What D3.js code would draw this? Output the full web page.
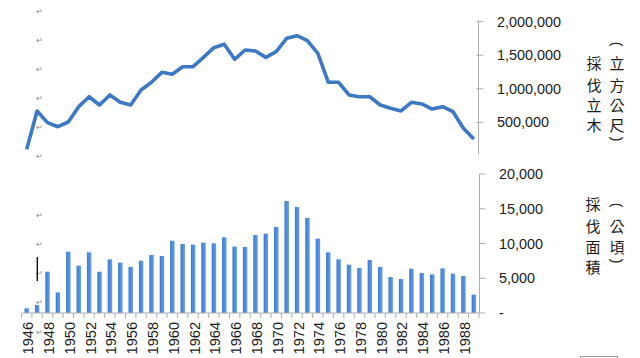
<!DOCTYPE html>
<html><head><meta charset="utf-8">
<script src="https://cdn.jsdelivr.net/npm/d3@7"></script>
<style>
html,body{margin:0;padding:0;background:#fff;}
svg{display:block;}
text{font-family:"Liberation Sans",Arial,sans-serif;}
.cjk{font-family:"Noto Sans CJK TC","Noto Sans CJK SC",sans-serif;}
</style></head>
<body>
<svg id="chart" width="640" height="358"></svg>
<script>
const years = d3.range(1946, 1990);
const volume = [100000,670000,496000,436000,506000,734000,882000,759000,908000,799000,
  759000,982000,1097000,1245000,1216000,1329000,1329000,1468000,1612000,1662000,
  1439000,1577000,1562000,1468000,1552000,1751000,1790000,1716000,1528000,1100000,
  1097000,908000,882000,882000,759000,710000,670000,799000,774000,699000,
  734000,659000,412000,253000];
const area = [680,1150,5940,2970,8820,6810,8730,5940,7720,7240,
  6620,7530,8350,8200,10400,9930,9830,10120,10020,10890,
  9540,9500,11220,11410,12370,16110,15250,13670,10700,8730,
  7720,6950,6470,7630,6620,5180,4890,6380,5760,5560,
  6430,5660,5320,2640];
const topTicks = [0,500000,1000000,1500000,2000000];
const botTicks = [0,5000,10000,15000,20000];
const yearLabels = years.filter(y => y % 2 === 0);
const topTitle = ["採","伐","立","木"];
const topUnit = ["立","方","公","尺"];
const botTitle = ["採","伐","面","積"];
const botUnit = ["公","頃"];

const svg = d3.select("#chart");
const axisColor = "#aeaeae";

const x = d3.scaleBand().domain(years).range([21.5, 479]);
const bw = x.bandwidth();
const yTop = d3.scaleLinear().domain([0, 2000000]).range([156, 21.6]);
const yBot = d3.scaleLinear().domain([0, 20000]).range([313, 174]);

const defs = svg.append("defs");
const g = defs.append("linearGradient").attr("id","barg").attr("x1","0").attr("x2","1").attr("y1","0").attr("y2","0");
g.append("stop").attr("offset","0%").attr("stop-color","#3a7bd5");
g.append("stop").attr("offset","100%").attr("stop-color","#6a9fe3");

// artifacts: return marks and cursor
const marks = [11,40,69,98,127,156,215,244,273,302,332];
svg.selectAll("text.ret").data(marks).join("text").attr("class","ret")
  .attr("x",39).attr("y",d=>d+3).attr("text-anchor","middle")
  .attr("font-size",8).attr("fill","#8a8a8a").text("↵");
svg.append("line").attr("x1",37.3).attr("x2",37.3).attr("y1",257).attr("y2",281)
  .attr("stroke","#111").attr("stroke-width",1.4);

// top axis
const ta = svg.append("g").attr("transform","translate(478.5,0)");
ta.append("line").attr("x1",0).attr("x2",0).attr("y1",yTop(2000000)-1).attr("y2",yTop(0)-1.5).attr("stroke",axisColor);
ta.selectAll("line.t").data(topTicks.slice(1)).join("line").attr("class","t")
  .attr("x1",-2).attr("x2",5).attr("y1",d=>yTop(d)).attr("y2",d=>yTop(d)).attr("stroke",axisColor);
svg.append("g").selectAll("text").data(topTicks.slice(1)).join("text")
  .attr("x",497).attr("y",d=>yTop(d)).attr("dy","0.35em").attr("font-size",14.4).attr("fill","#1a1a1a")
  .text(d=>d3.format(",")(d));

// line
svg.append("path").datum(volume)
  .attr("d", d3.line().x((d,i)=>x(years[i])+bw/2).y(d=>yTop(d)))
  .attr("fill","none").attr("stroke","#3c78c3").attr("stroke-width",3.6)
  .attr("stroke-linejoin","round");

// bottom axis
const ba = svg.append("g").attr("transform","translate(479.5,0)");
ba.append("line").attr("x1",0).attr("x2",0).attr("y1",yBot(20000)).attr("y2",yBot(0)).attr("stroke",axisColor);
ba.selectAll("line.t").data(botTicks).join("line").attr("class","t")
  .attr("x1",0).attr("x2",6).attr("y1",d=>yBot(d)).attr("y2",d=>yBot(d)).attr("stroke",axisColor);
svg.append("g").selectAll("text").data(botTicks).join("text")
  .attr("x",499).attr("y",d=>yBot(d)).attr("dy","0.35em").attr("font-size",14.4).attr("fill","#1a1a1a")
  .text(d=>d===0?"-":d3.format(",")(d));

// bars
svg.append("g").selectAll("rect").data(area).join("rect")
  .attr("x",(d,i)=>x(years[i])+bw*0.29).attr("width",bw*0.43)
  .attr("y",d=>yBot(d)).attr("height",d=>yBot(0)-yBot(d))
  .attr("fill","url(#barg)");

// x axis
svg.append("line").attr("x1",x.range()[0]).attr("x2",x.range()[1]).attr("y1",313).attr("y2",313).attr("stroke",axisColor);
const bounds = years.map(y=>x(y)).concat([x.range()[1]]);
svg.append("g").selectAll("line").data(bounds).join("line")
  .attr("x1",d=>d).attr("x2",d=>d).attr("y1",313).attr("y2",318).attr("stroke",axisColor);
svg.append("g").selectAll("text").data(yearLabels).join("text")
  .attr("transform",d=>`translate(${x(d)+bw/2+1.2},322) rotate(-90)`)
  .attr("text-anchor","end").attr("dy","0.36em").attr("font-size",14.6).attr("fill","#1a1a1a")
  .text(d=>d);

// titles
function col(chars, cx, ys){
  svg.append("g").selectAll("text").data(chars).join("text").attr("class","cjk")
    .attr("x",cx).attr("y",(d,i)=>ys[i]).attr("dy","0.36em").attr("text-anchor","middle")
    .attr("font-size",15).attr("fill","#1a1a1a").text(d=>d);
}
function paren(ch, cx, cy){
  svg.append("text").attr("transform",`translate(${cx},${cy}) rotate(90)`)
    .attr("text-anchor","middle").attr("dy","0.35em").attr("font-size",14)
    .attr("fill","#1a1a1a").text(ch);
}
col(topTitle, 594, [64,85.5,106,126]);
paren("(", 617, 44);
col(topUnit, 617, [64,85.5,106,126]);
paren(")", 617, 139);
col(botTitle, 593, [205,226.5,247.5,268]);
paren("(", 617, 205);
col(botUnit, 617, [226.5,247.5]);
paren(")", 617, 261);

// small box artifact
svg.append("rect").attr("x",580.5).attr("y",356.5).attr("width",37).attr("height",8)
  .attr("fill","none").attr("stroke","#9a9a9a");
</script>
</body></html>
